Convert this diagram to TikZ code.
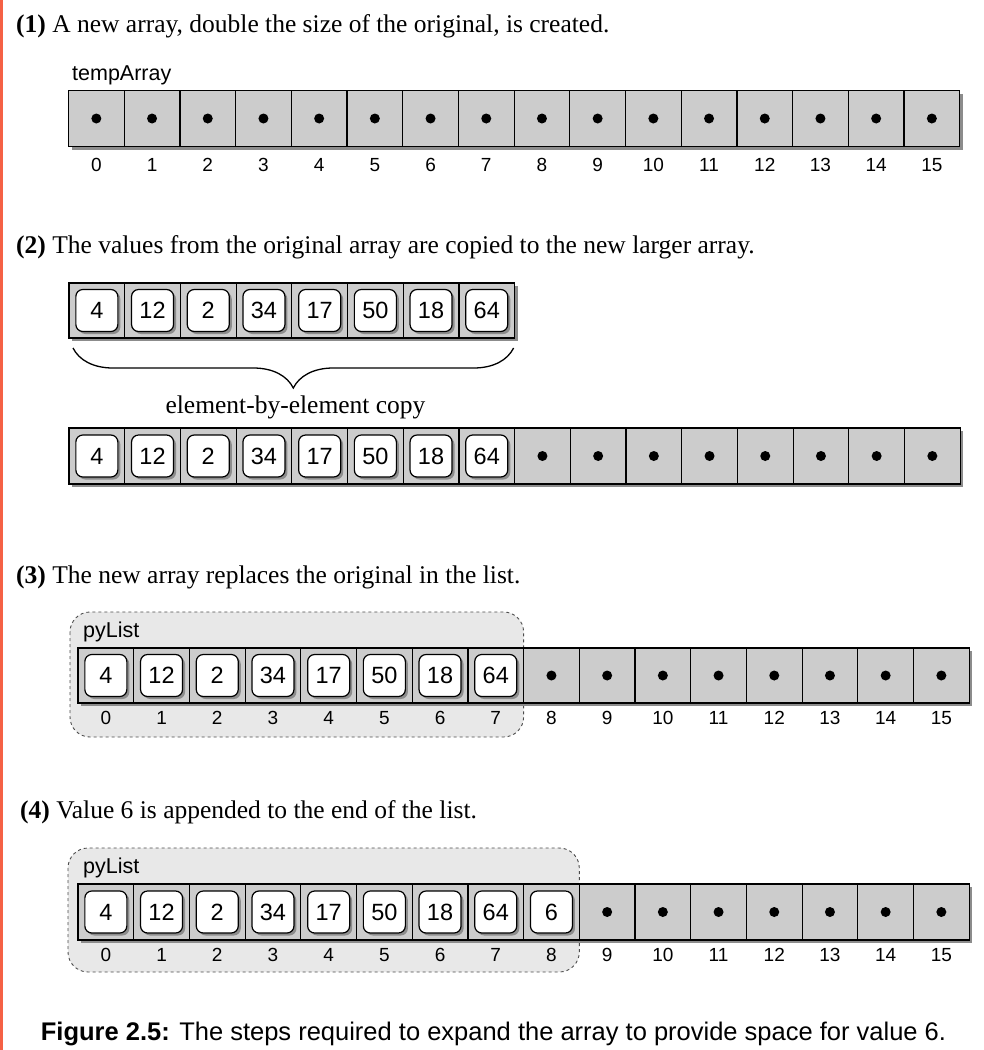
\documentclass[tikz,border=0pt]{standalone}
\usepackage{fontspec}
\setmainfont{Liberation Serif}
\setsansfont{Liberation Sans}
\usetikzlibrary{calc,shadows,decorations.pathreplacing}
\definecolor{CellClr}{rgb}{0.8,0.8,0.8}
\definecolor{ShadowClr}{rgb}{0.55,0.55,0.55}
\definecolor{ListClr}{rgb}{0.91,0.91,0.91}
\definecolor{EdgeClr}{rgb}{0.96,0.38,0.27}

\begin{document}
\begin{tikzpicture}[x=1pt,y=-1pt,
  head/.style={anchor=base west,inner sep=0pt,font=\fontsize{25.5}{30}\selectfont},
  lbl/.style={anchor=base west,inner sep=0pt,font=\sffamily\fontsize{21.5}{21.5}\selectfont},
  idx/.style={font=\sffamily\fontsize{19}{19}\selectfont},
  cell/.style={draw,fill=CellClr,line width=1.2pt,minimum width=55.7pt,minimum height=56pt,
    inner sep=0pt,outer sep=0pt,general shadow={fill=ShadowClr,shadow xshift=3pt,shadow yshift=-3pt}},
  val/.style={draw,fill=white,line width=1.2pt,rounded corners=7pt,minimum width=42pt,minimum height=42pt,
    inner sep=0pt,font=\sffamily\fontsize{23.5}{23.5}\selectfont,
    general shadow={fill=ShadowClr,shadow xshift=2.5pt,shadow yshift=-2.5pt}},
  list/.style={draw=black!70,fill=ListClr,dashed,line width=0.9pt,rounded corners=20pt}]
\useasboundingbox (0,0) rectangle (984,1050);
\fill[EdgeClr] (0,0) rectangle (3,1050);

% (1) new array
\node[head] (h1) at (16,32) {\textbf{(1)} A new array, double the size of the original, is created.};
\node[lbl] (tname) at (72,80) {tempArray};
\foreach \i in {0,...,15}{
  \node[cell] (t\i) at (96.35+55.7*\i,118.5) {};
  \fill (t\i) circle (5);
  \node[idx] at ([yshift=-18.5pt]t\i.south) {\i};
}

% (2) copy the values
\node[head] (h2) at (16,253) {\textbf{(2)} The values from the original array are copied to the new larger array.};
\foreach \v [count=\i from 0] in {4,12,2,34,17,50,18,64}{
  \node[cell,minimum height=55pt] (o\i) at (96.85+55.7*\i,310.5) {};
  \node[val] (ov\i) at (o\i) {\v};
}
\draw[decorate,decoration={brace,mirror,amplitude=40pt},line width=1.3pt]
  ([xshift=4pt,yshift=-10pt]o0.south west) -- ([xshift=-1pt,yshift=-10pt]o7.south east);
\node[anchor=base,inner sep=0pt,font=\fontsize{25.5}{30}\selectfont] (copy) at (295.5,413) {element-by-element copy};
\foreach \v [count=\i from 0] in {4,12,2,34,17,50,18,64}{
  \node[cell] (n\i) at (96.85+55.7*\i,456) {};
  \node[val] (nv\i) at (n\i) {\v};
}
\foreach \i in {8,...,15}{
  \node[cell] (n\i) at (96.85+55.7*\i,456) {};
  \fill (n\i) circle (5);
}

% (3) replace the original
\node[head] (h3) at (16,583) {\textbf{(3)} The new array replaces the original in the list.};
\draw[list] (70,612) rectangle (523.6,737);
\node[lbl] (pname) at (83,637) {pyList};
\foreach \v [count=\i from 0] in {4,12,2,34,17,50,18,64}{
  \node[cell,minimum height=55pt] (p\i) at (105.85+55.7*\i,675.5) {};
  \node[val] (pv\i) at (p\i) {\v};
}
\foreach \i in {8,...,15}{
  \node[cell,minimum height=55pt] (p\i) at (105.85+55.7*\i,675.5) {};
  \fill (p\i) circle (5);
}
\foreach \i in {0,...,15}
  \node[idx] at ([yshift=-15pt]p\i.south) {\i};

% (4) append value 6
\node[head] (h4) at (20,818) {\textbf{(4)} Value 6 is appended to the end of the list.};
\draw[list] (68,848) rectangle (579.3,972);
\node[lbl] (qname) at (83,873) {pyList};
\foreach \v [count=\i from 0] in {4,12,2,34,17,50,18,64,6}{
  \node[cell] (q\i) at (105.85+55.7*\i,912) {};
  \node[val] (qv\i) at (q\i) {\v};
}
\foreach \i in {9,...,15}{
  \node[cell] (q\i) at (105.85+55.7*\i,912) {};
  \fill (q\i) circle (5);
}
\foreach \i in {0,...,15}
  \node[idx] at ([yshift=-15pt]q\i.south) {\i};

\node[anchor=base,inner sep=0pt,font=\sffamily\fontsize{25.5}{26}\selectfont] (caption) at (493.5,1040)
  {\textbf{Figure 2.5:} The steps required to expand the array to provide space for value 6.};
\end{tikzpicture}
\end{document}
